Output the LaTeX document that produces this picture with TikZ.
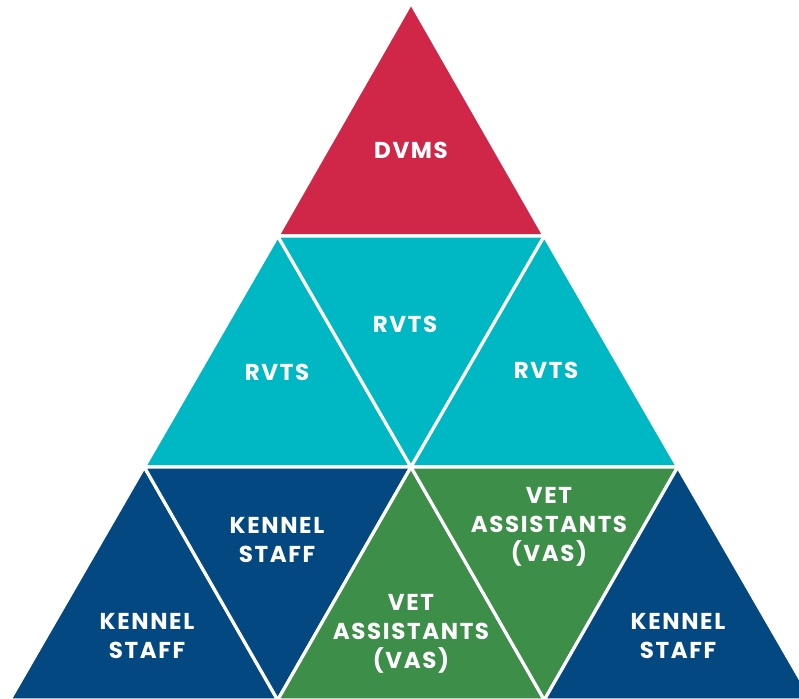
\documentclass[tikz,border=0pt]{standalone}
\usepackage{fontspec}
\setmainfont{Poppins}[LetterSpace=7]
\usepackage{xcolor}
\usepackage{tikz}
\usetikzlibrary{calc}

\definecolor{dvmred}{RGB}{208,39,72}
\definecolor{rvtcyan}{RGB}{0,184,196}
\definecolor{kennavy}{RGB}{3,72,128}
\definecolor{vasgreen}{RGB}{60,142,72}

\tikzset{
	tri/.style={draw=white, line width=1.6pt, line join=round},
	lbl/.style={text=white, font=\fontsize{11.5}{14.5}\selectfont\bfseries, align=center, inner sep=0pt}
}

\begin{document}
\begin{tikzpicture}[x=0.5pt, y=0.5pt]
		%page frame
		\useasboundingbox (0,0) rectangle (799,698);
		\clip (0,0) rectangle (799,698);
		
		%corners of the small triangles, row by row
		\coordinate (T) at (411,695);
		\coordinate (A1) at (277.7,462);
		\coordinate (A2) at (544.3,462);
		\coordinate (B1) at (144.3,231);
		\coordinate (B2) at (411,231);
		\coordinate (B3) at (677.7,231);
		\coordinate (C1) at (9.8,-2);
		\coordinate (C2) at (277.7,-2);
		\coordinate (C3) at (544.3,-2);
		\coordinate (C4) at (812.2,-2);
		
		%top
		\draw [tri, fill=dvmred] (T) -- (A1) -- (A2) -- cycle;
		
		%middle row
		\draw [tri, fill=rvtcyan] (A1) -- (B1) -- (B2) -- cycle;
		\draw [tri, fill=rvtcyan] (A1) -- (A2) -- (B2) -- cycle;
		\draw [tri, fill=rvtcyan] (A2) -- (B2) -- (B3) -- cycle;
		
		%bottom row
		\draw [tri, fill=kennavy] (B1) -- (C1) -- (C2) -- cycle;
		\draw [tri, fill=kennavy] (B1) -- (B2) -- (C2) -- cycle;
		\draw [tri, fill=vasgreen] (B2) -- (C2) -- (C3) -- cycle;
		\draw [tri, fill=vasgreen] (B2) -- (B3) -- (C3) -- cycle;
		\draw [tri, fill=kennavy] (B3) -- (C3) -- (C4) -- cycle;
		
		%labels
		\node [lbl] (dvms) at (411,548) {DVMS};
		\node [lbl] (rvtsL) at (277,326) {RVTS};
		\node [lbl] (rvtsM) at (405,374) {RVTS};
		\node [lbl] (rvtsR) at (546,328) {RVTS};
		\node [lbl] (kennelL) at (147,62) {KENNEL\\STAFF};
		\node [lbl] (kennelM) at (277,158) {KENNEL\\STAFF};
		\node [lbl] (vasB) at (411,64) {VET\\ASSISTANTS\\(VAS)};
		\node [lbl] (vasT) at (549,171) {VET\\ASSISTANTS\\(VAS)};
		\node [lbl] (kennelR) at (678,62) {KENNEL\\STAFF};
	\end{tikzpicture}
\end{document}
